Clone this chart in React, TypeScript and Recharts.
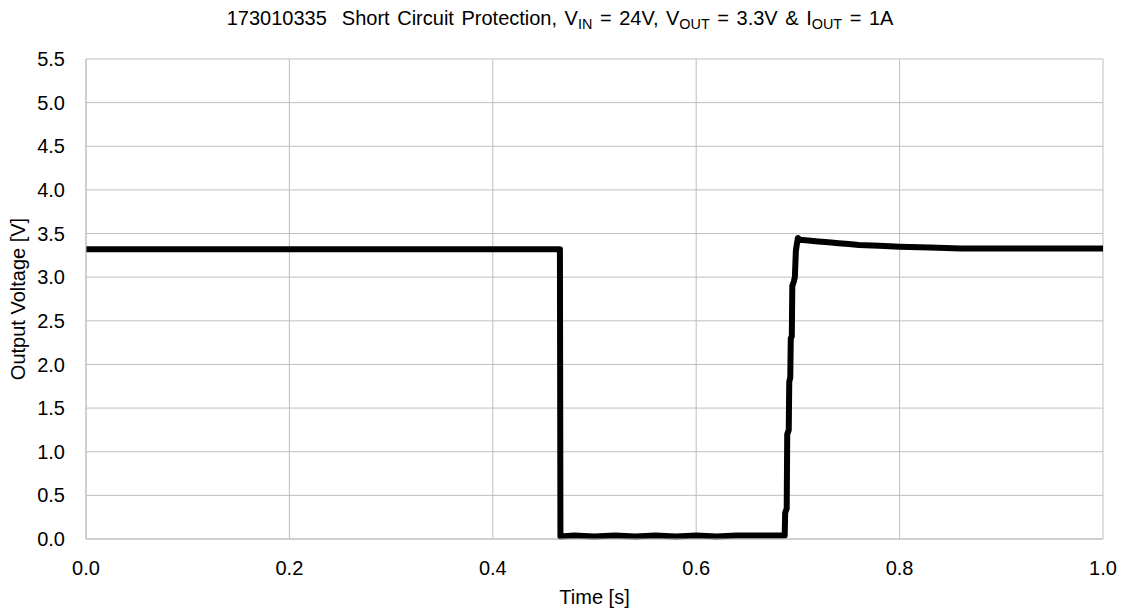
import React from 'react';
import { LineChart, Line, XAxis, YAxis, CartesianGrid } from 'recharts';

const timeS = [
    0, 0.1, 0.2, 0.3, 0.4, 0.466, 0.4665, 0.48, 0.5, 0.52, 0.54, 0.56, 0.58, 0.6, 0.62, 0.64, 0.66, 0.68, 0.687,
    0.6875, 0.689, 0.6895, 0.691, 0.6915, 0.6925, 0.693, 0.694, 0.6945, 0.696, 0.697, 0.698, 0.699, 0.7, 0.702,
    0.71, 0.72, 0.73, 0.74, 0.75, 0.76, 0.78, 0.8, 0.83, 0.86, 0.9, 0.95, 1.0
];
const voltageV = [
    3.32, 3.32, 3.32, 3.32, 3.32, 3.32, 0.03, 0.04, 0.03, 0.04, 0.03, 0.04, 0.03, 0.04, 0.03, 0.04, 0.04, 0.04, 0.04,
    0.3, 0.35, 1.2, 1.25, 1.8, 1.85, 2.3, 2.32, 2.9, 2.95, 3.0, 3.3, 3.38, 3.45, 3.43,
    3.42, 3.41, 3.4, 3.39, 3.38, 3.37, 3.36, 3.35, 3.34, 3.33, 3.33, 3.33, 3.33
];
const xTicks = [0, 0.2, 0.4, 0.6, 0.8, 1.0];
const yTicks = [0, 0.5, 1.0, 1.5, 2.0, 2.5, 3.0, 3.5, 4.0, 4.5, 5.0, 5.5];

const data = timeS.map((t, i) => ({ t, v: voltageV[i] }));

const font = '"Liberation Sans", Arial, sans-serif';
const subStyle: React.CSSProperties = { fontSize: '0.72em', verticalAlign: '-0.25em', wordSpacing: 0 };

export default function App() {
    return (
        <div style={{ position: 'absolute', left: 0, top: 0, width: 1124, height: 610, background: '#fff', fontFamily: font }}>
            <div
                style={{
                    position: 'absolute',
                    left: -2,
                    width: 1124,
                    top: 7,
                    textAlign: 'center',
                    fontSize: 20,
                    wordSpacing: 2,
                    whiteSpace: 'nowrap',
                    color: '#000'
                }}
            >
                173010335&nbsp; Short Circuit Protection, V<span style={subStyle}>IN</span> = 24V, V
                <span style={subStyle}>OUT</span> = 3.3V &amp; I<span style={subStyle}>OUT</span> = 1A
            </div>
            <LineChart width={1124} height={610} data={data} margin={{ top: 59, right: 21, bottom: 0, left: 0 }}>
                <CartesianGrid stroke="#bfbfbf" strokeWidth={1} />
                <XAxis
                    dataKey="t"
                    type="number"
                    domain={[0, 1]}
                    ticks={xTicks}
                    tickFormatter={(v: number) => v.toFixed(1)}
                    height={71}
                    stroke="#bfbfbf"
                    tickSize={0}
                    tickMargin={22}
                    tick={{ fill: '#000', fontSize: 20, fontFamily: font }}
                    label={{ value: 'Time [s]', position: 'insideBottom', offset: 6, fill: '#000', fontSize: 20, fontFamily: font }}
                />
                <YAxis
                    type="number"
                    domain={[0, 5.5]}
                    ticks={yTicks}
                    tickFormatter={(v: number) => v.toFixed(1)}
                    width={86}
                    stroke="#bfbfbf"
                    tickSize={0}
                    tickMargin={21}
                    tick={{ fill: '#000', fontSize: 20, fontFamily: font }}
                    label={{
                        value: 'Output Voltage [V]',
                        angle: -90,
                        position: 'insideLeft',
                        offset: 18,
                        fill: '#000',
                        fontSize: 20,
                        fontFamily: font,
                        style: { textAnchor: 'middle' }
                    }}
                />
                <Line
                    type="linear"
                    dataKey="v"
                    stroke="#000"
                    strokeWidth={6}
                    strokeLinejoin="round"
                    dot={false}
                    isAnimationActive={false}
                />
            </LineChart>
        </div>
    );
}
